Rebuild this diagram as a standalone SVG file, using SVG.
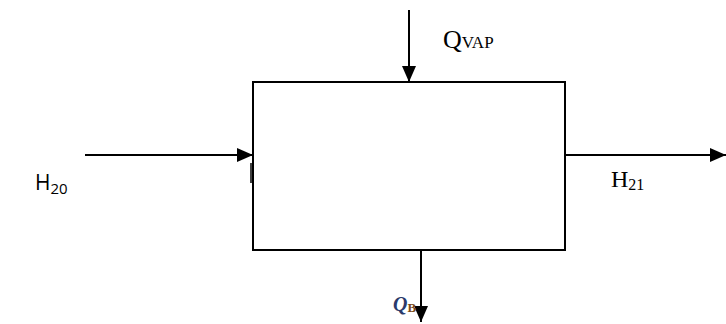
<svg xmlns="http://www.w3.org/2000/svg" width="726" height="324" viewBox="0 0 726 324">
<style>
.ln{stroke:#000;stroke-width:2;fill:none}
.tm{font-family:"Liberation Serif",serif;fill:#000}
.sn{font-family:"Open Sans","Liberation Sans",sans-serif;fill:#000}
</style>
<defs>
<marker id="ah" viewBox="0 0 16 14" refX="16" refY="7" markerWidth="16" markerHeight="14" markerUnits="userSpaceOnUse" orient="auto">
<path d="M0,0 L16,7 L0,14 Z" fill="#000"/>
</marker>
</defs>
<rect width="726" height="324" fill="#fff"/>
<g id="process">
<rect class="ln" x="253" y="82" width="312" height="168"/>
</g>
<g id="connectors">
<line class="ln" x1="409" y1="10" x2="409" y2="82" marker-end="url(#ah)"/>
<line class="ln" x1="85" y1="155" x2="253" y2="155" marker-end="url(#ah)"/>
<line class="ln" x1="565" y1="155" x2="726" y2="155" marker-end="url(#ah)"/>
<line class="ln" x1="421" y1="250" x2="421" y2="322" marker-end="url(#ah)"/>
<line x1="251" y1="163" x2="251" y2="183" stroke="#000" stroke-width="1.5"/>
</g>
<g id="label-qvap">
<text class="tm" x="443" y="48" font-size="26">Q<tspan font-size="17">VAP</tspan></text>
</g>
<g id="label-h20">
<text class="sn" x="35" y="190" font-size="21">H<tspan font-size="15" dy="4">20</tspan></text>
</g>
<g id="label-h21">
<text class="tm" x="611" y="187" font-size="24">H<tspan font-size="16" dy="3">21</tspan></text>
</g>
<g id="label-qb">
<text x="393" y="311" font-family="Liberation Serif,serif" font-style="italic" font-weight="bold" font-size="20" fill="#2b3a6b">Q<tspan font-size="13" dy="1" font-style="normal" fill="#7a4a1a">B</tspan></text>
</g>
</svg>
